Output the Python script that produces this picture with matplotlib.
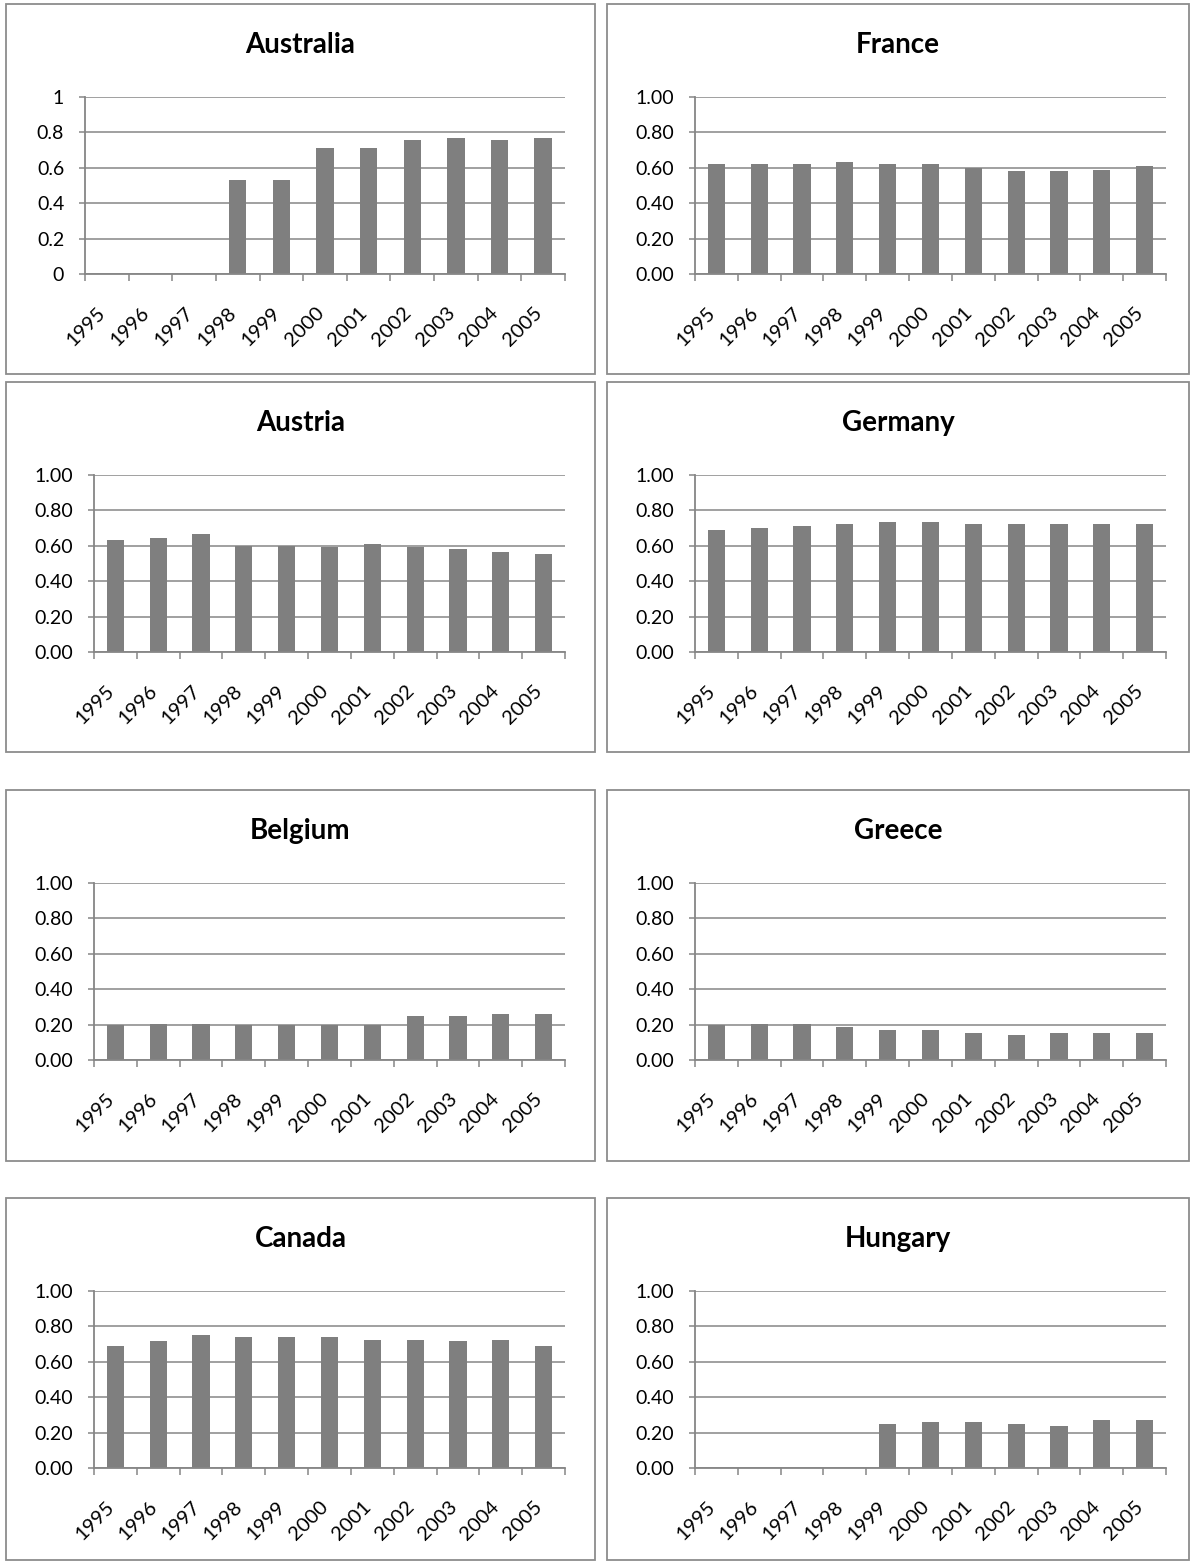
import numpy as np
import matplotlib
matplotlib.use("Agg")
import matplotlib.pyplot as plt
from matplotlib.patches import Rectangle
from matplotlib.transforms import ScaledTranslation

plt.rcParams['font.family'] = ['Lato', 'DejaVu Sans']

years = ["1995", "1996", "1997", "1998", "1999", "2000",
         "2001", "2002", "2003", "2004", "2005"]
nan = np.nan

australia = [nan, nan, nan, 0.53, 0.53, 0.71, 0.71, 0.755, 0.77, 0.755, 0.77]
france = [0.62, 0.62, 0.62, 0.63, 0.62, 0.62, 0.60, 0.58, 0.58, 0.59, 0.61]
austria = [0.635, 0.645, 0.665, 0.60, 0.60, 0.595, 0.61, 0.595, 0.58, 0.565, 0.555]
germany = [0.69, 0.70, 0.71, 0.725, 0.735, 0.735, 0.725, 0.725, 0.725, 0.725, 0.725]
belgium = [0.195, 0.205, 0.205, 0.195, 0.195, 0.195, 0.195, 0.25, 0.25, 0.26, 0.26]
greece = [0.195, 0.205, 0.205, 0.185, 0.17, 0.17, 0.15, 0.14, 0.15, 0.15, 0.15]
canada = [0.69, 0.715, 0.75, 0.74, 0.74, 0.74, 0.725, 0.725, 0.715, 0.725, 0.69]
hungary = [nan, nan, nan, nan, 0.25, 0.26, 0.26, 0.25, 0.24, 0.27, 0.27]

# (title, values, column, row)
panels = [
    ("Australia", australia, 0, 0),
    ("France", france, 1, 0),
    ("Austria", austria, 0, 1),
    ("Germany", germany, 1, 1),
    ("Belgium", belgium, 0, 2),
    ("Greece", greece, 1, 2),
    ("Canada", canada, 0, 3),
    ("Hungary", hungary, 1, 3),
]

W, H = 1192, 1562
DPI = 100
BAR = "#7f7f7f"
LINE = "#868686"
FRAME = "#8c8c8c"

col_box = [(6, 595), (607, 1189)]
row_box = [(4, 374), (382, 752), (790, 1161), (1198, 1560)]
col_plot = [(94, 565), (695, 1166)]

fig = plt.figure(figsize=(W / DPI, H / DPI), dpi=DPI)


def fig_rect(x0, y0, x1, y1):
    return [x0 / W, 1 - y1 / H, (x1 - x0) / W, (y1 - y0) / H]


for name, vals, col, row in panels:
    bx0, bx1 = col_box[col]
    by0, by1 = row_box[row]
    fig.add_artist(Rectangle((bx0 / W, 1 - by1 / H), (bx1 - bx0) / W, (by1 - by0) / H,
                             transform=fig.transFigure, fill=False,
                             edgecolor=FRAME, lw=1.3))
    fig.text((bx0 + bx1) / 2 / W, 1 - (by0 + 41) / H, name, ha='center', va='center',
             fontsize=20, fontweight='bold', color='black')

    px0, px1 = col_plot[col]
    if name == "Australia":
        px0 = 85
    ax = fig.add_axes(fig_rect(px0, by0 + 93, px1, by0 + 270))

    x = np.arange(len(years))
    ax.bar(x, vals, width=0.4, color=BAR, zorder=3)
    ax.set_xlim(-0.5, len(years) - 0.5)
    ax.set_ylim(0, 1)

    yt = np.arange(0, 1.01, 0.2)
    ax.set_yticks(yt)
    if name == "Australia":
        ax.set_yticklabels(["0", "0.2", "0.4", "0.6", "0.8", "1"])
    else:
        ax.set_yticklabels([f"{v:.2f}" for v in yt])
    ax.grid(axis='y', color=LINE, lw=1.1, zorder=0)
    ax.tick_params(axis='y', length=4, width=1.1, color=LINE, pad=11,
                   labelsize=14, labelcolor='black')

    # tick marks sit between categories, labels go in the middle
    ax.set_xticks(np.arange(-0.5, len(years)))
    ax.set_xticklabels([])
    ax.tick_params(axis='x', length=5, width=1.1, color=LINE)
    offset = ScaledTranslation(-4 / DPI, -36 / DPI, fig.dpi_scale_trans)
    for i, yr in enumerate(years):
        ax.text(i, 0, yr, transform=ax.get_xaxis_transform() + offset,
                rotation=45, rotation_mode='anchor', ha='right', va='center',
                fontsize=14.5, color='black')

    for side in ("top", "right"):
        ax.spines[side].set_visible(False)
    for side in ("left", "bottom"):
        ax.spines[side].set_color(LINE)
        ax.spines[side].set_linewidth(1.3)
        ax.spines[side].set_zorder(4)

fig.savefig("out.png", dpi=DPI)
